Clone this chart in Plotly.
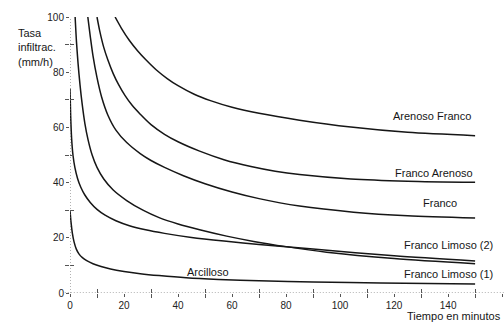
import plotly.graph_objects as go

# Infiltration rate (mm/h) versus time (min) for several soil textures
t_arenoso_franco = [16.7, 19, 22, 25, 28, 32, 36, 40, 46, 52, 60, 70, 85, 104, 125, 150]
v_arenoso_franco = [100, 96, 91.5, 87.8, 84.6, 80.8, 77.7, 75.1, 72, 69.7, 67.3, 65.1, 62.6, 60.1, 58.2, 57]

t_franco_arenoso = [10, 11, 12.5, 14, 16, 18, 20.4, 23, 26, 30, 35, 40, 48, 57, 67, 76, 85, 104, 125, 150]
v_franco_arenoso = [100, 95, 89, 84.5, 79.5, 75.5, 71.5, 68, 64.8, 61, 57.5, 54.8, 51.4, 48.3, 45.8, 44.1, 42.9, 41.3, 40.5, 40.1]

t_franco = [6.6, 7.5, 8.5, 10, 11.7, 14, 17, 21, 26, 30, 35, 42, 50, 60, 70, 85, 105, 125, 150]
v_franco = [100, 93, 86, 78, 71, 64.5, 59, 54.5, 50.5, 48, 45.5, 42.5, 39.6, 36.6, 34.2, 31.5, 29.3, 28.0, 27.2]

t_franco_limoso_1 = [1.9, 2.4, 3, 3.7, 4.5, 5.5, 6.7, 8.2, 10, 12.5, 16, 21, 27, 33, 40, 48, 58, 68, 80, 95, 120, 150]
v_franco_limoso_1 = [100, 91, 83, 75.5, 68.5, 61.5, 55.5, 50, 45.5, 41.3, 37.3, 33.5, 30, 27.3, 25, 22.9, 20.6, 18.7, 16.8, 14.8, 12.5, 10.6]

t_franco_limoso_2 = [0, 0.25, 0.6, 1.1, 1.8, 2.8, 4, 5.5, 7.5, 10, 13, 17, 22, 28, 35, 45, 57, 70, 90, 120, 150]
v_franco_limoso_2 = [74, 64, 56, 50, 45.5, 41.5, 38.3, 35.5, 32.8, 30.3, 28.2, 26.2, 24.4, 22.9, 21.6, 20.1, 18.8, 17.6, 15.9, 13.5, 11.6]

t_arcilloso = [0, 0.4, 0.9, 1.5, 2.3, 3.3, 4.6, 6.2, 8.5, 11.5, 15, 20, 26, 33, 43, 55, 70, 90, 115, 150]
v_arcilloso = [30, 25.5, 21.5, 18.5, 16, 14.2, 12.8, 11.7, 10.6, 9.6, 8.7, 7.8, 7.0, 6.3, 5.5, 4.9, 4.4, 4.0, 3.6, 3.3]

series = [
    ("Arenoso Franco", t_arenoso_franco, v_arenoso_franco),
    ("Franco Arenoso", t_franco_arenoso, v_franco_arenoso),
    ("Franco", t_franco, v_franco),
    ("Franco Limoso (1)", t_franco_limoso_1, v_franco_limoso_1),
    ("Franco Limoso (2)", t_franco_limoso_2, v_franco_limoso_2),
    ("Arcilloso", t_arcilloso, v_arcilloso),
]

# Curve labels: (text, time, rate)
labels = [
    ("Arenoso Franco", 134, 64),
    ("Franco Arenoso", 134.8, 43.5),
    ("Franco", 137, 32.6),
    ("Franco Limoso (2)", 140, 17.4),
    ("Franco Limoso (1)", 140, 6.9),
    ("Arcilloso", 51, 7.6),
]

FONT = "Liberation Sans, Arial, sans-serif"
INK = "#161616"

fig = go.Figure()
for name, t, v in series:
    fig.add_trace(go.Scatter(
        x=t, y=v, mode="lines", name=name,
        line=dict(color=INK, width=1.5, shape="spline", smoothing=0.8),
        showlegend=False, hoverinfo="skip",
    ))

# empty trace so the overlay axes (inner half of the crossing ticks) are drawn
fig.add_trace(go.Scatter(x=[None], y=[None], xaxis="x2", yaxis="y2",
                         showlegend=False, hoverinfo="skip"))

x_range = [0, 160.7]
y_range = [0, 100]

axis_common = dict(showgrid=False, zeroline=False, showline=False,
                   tickfont=dict(family=FONT, size=10, color="#222"),
                   ticks="outside", ticklen=3, tickcolor="#555", tickwidth=1)

fig.update_layout(
    width=504, height=322,
    margin=dict(l=70, r=0, t=17, b=29),
    paper_bgcolor="white", plot_bgcolor="white",
    xaxis=dict(range=x_range, dtick=20, tick0=0,
               minor=dict(dtick=10, ticks="outside", ticklen=4, tickcolor="#555"),
               **axis_common),
    yaxis=dict(range=y_range, dtick=20, tick0=0,
               minor=dict(dtick=10, ticks="outside", ticklen=4, tickcolor="#555"),
               **axis_common),
    xaxis2=dict(overlaying="x", range=x_range, showgrid=False, zeroline=False,
                showticklabels=False, ticks="inside", ticklen=4, tickcolor="#555",
                tickvals=[10, 30, 50, 70, 90, 110, 130, 150]),
    yaxis2=dict(overlaying="y", range=y_range, showgrid=False, zeroline=False,
                showticklabels=False, ticks="inside", ticklen=4, tickcolor="#555",
                tickvals=[10, 30, 50, 70, 90]),
    shapes=[
        dict(type="line", xref="paper", yref="y", x0=-0.012, x1=1, y0=0, y1=0,
             line=dict(color="#666", width=1, dash="1px,2px")),
        dict(type="line", xref="x", yref="paper", x0=0, x1=0, y0=0, y1=1,
             line=dict(color="#666", width=1, dash="1px,2px")),
    ],
)

for text, tx, ty in labels:
    fig.add_annotation(x=tx, y=ty, text=text, showarrow=False,
                       font=dict(family=FONT, size=11, color=INK),
                       xanchor="center", yanchor="middle")

fig.add_annotation(xref="paper", yref="paper", x=-0.124, y=0.891,
                   text="Tasa<br>infiltrac.<br>(mm/h)", showarrow=False, align="left",
                   xanchor="left", yanchor="middle",
                   font=dict(family=FONT, size=11, color=INK))
fig.add_annotation(xref="paper", yref="paper", x=0.885, y=-0.083,
                   text="Tiempo en minutos", showarrow=False,
                   xanchor="center", yanchor="middle",
                   font=dict(family=FONT, size=11, color=INK))

fig.write_html("out.html")
